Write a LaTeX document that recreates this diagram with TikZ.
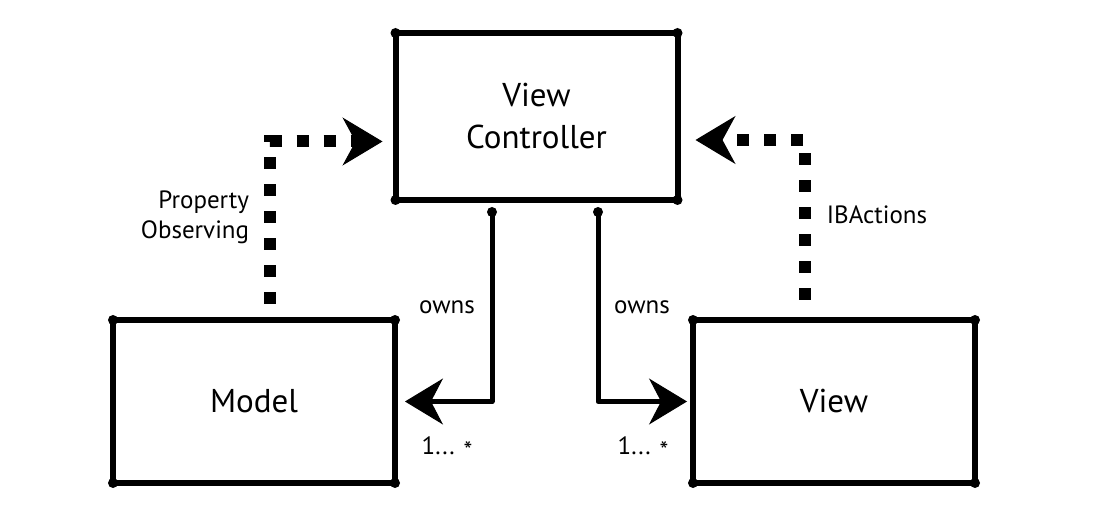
\documentclass[tikz,border=0pt]{standalone}
\usepackage{fontspec}
\setmainfont{PT Sans}
\usetikzlibrary{arrows.meta}

\begin{document}
\begin{tikzpicture}[x=1pt,y=-1pt,
  box/.style={draw,line width=6pt,line join=round,outer sep=0pt,minimum width=282pt,minimum height=163pt,
    align=center,font=\fontsize{33}{42}\selectfont},
  lbl/.style={align=right,font=\fontsize{25}{30}\selectfont},
  owns/.style={line width=5pt,line cap=round,line join=round,
    -{Stealth[length=38pt,width=46pt,inset=12pt,line width=1pt]}},
  observe/.style={line width=12pt,dash pattern=on 12pt off 15pt,
    -{Stealth[length=40pt,width=48pt,inset=13pt,line width=1pt]}}]

 \useasboundingbox (0,0) rectangle (1098,526);

 \node[box,minimum height=167pt] (vc) at (536.5,116.5) {View\\Controller};
 \node[box] (model) at (254,401.5) {Model};
 \node[box] (view) at (834,401.5) {View};

 % corner dots
 \foreach \n in {vc,model,view}
  \foreach \a in {north east,north west,south east,south west}
   \fill (\n.\a) circle (5pt);

 % ownership, VC down to model and view
 \coordinate (ownsl) at ([xshift=-44.5pt,yshift=-12pt]vc.south);
 \coordinate (ownsr) at ([xshift=61.5pt,yshift=-12pt]vc.south);
 \draw[owns] (ownsl) |- ([xshift=10pt]model.east);
 \draw[owns] (ownsr) |- ([xshift=-6pt]view.west);
 \fill (ownsl) circle (5pt);
 \fill (ownsr) circle (5pt);

 % dotted arrows back to VC
 \draw[observe] ([xshift=16pt,yshift=16pt]model.north) |- ([xshift=-13pt,yshift=-25pt]vc.west);
 \draw[observe] ([xshift=-29pt,yshift=20pt]view.north) |- ([xshift=18pt,yshift=-23.5pt]vc.east);

 \node[lbl] (plabel) at (195,217) {Property\\Observing};
 \node[lbl] (iblabel) at (877,215) {IBActions};
 \node[lbl] (ownsltext) at (447,307) {owns};
 \node[lbl] (ownsrtext) at (642,307) {owns};
 \node[lbl] (multl) at (447,448) {1... \raisebox{-0.35ex}{*}};
 \node[lbl] (multr) at (643,448) {1... \raisebox{-0.35ex}{*}};

\end{tikzpicture}
\end{document}
